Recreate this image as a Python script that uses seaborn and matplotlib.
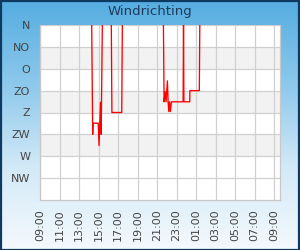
import numpy as np
import pandas as pd
import matplotlib
matplotlib.use("Agg")
import matplotlib.pyplot as plt
from matplotlib.colors import LinearSegmentedColormap
from matplotlib.patches import Rectangle
import seaborn as sns

# ---- data (hours after 09:00, wind direction in degrees) ----
seg1_t = [5.30, 5.40, 5.44, 5.97, 6.05, 6.20, 6.27, 6.39]
seg1_v = [0, 225, 202, 202, 248, 159, 225, 0]
seg2_t = [7.31, 7.37, 8.38, 8.44]
seg2_v = [0, 180, 180, 0]
seg3_t = [12.65, 12.72, 12.82, 12.92, 13.06, 13.13, 13.20, 13.28, 13.36, 13.47,
          14.67, 14.71, 14.75, 15.35, 15.36, 16.33, 16.38]
seg3_v = [0, 158, 137, 158, 115, 158, 178, 158, 178, 158,
          158, 0, 158, 158, 135, 135, 0]

dir_labels = ["N", "NO", "O", "ZO", "Z", "ZW", "W", "NW"]
dir_values = [0, 45, 90, 135, 180, 225, 270, 315]
tick_hours = list(range(0, 25, 2))
tick_labels = ["%02d:00" % ((9 + h) % 24) for h in tick_hours]

df = pd.concat([
    pd.DataFrame({"t": seg1_t, "v": seg1_v, "seg": 1}),
    pd.DataFrame({"t": seg2_t, "v": seg2_v, "seg": 2}),
    pd.DataFrame({"t": seg3_t, "v": seg3_v, "seg": 3}),
], ignore_index=True)

sns.set_style("white")
plt.rcParams["font.family"] = ["DejaVu Sans"]

fig = plt.figure(figsize=(3.0, 2.5), dpi=100)

# gradient background
bg = fig.add_axes([0, 0, 1, 1], zorder=-10)
cmap = LinearSegmentedColormap.from_list("bg", ["#55ade0", "#8cc8ec", "#d2e9f7", "#f4f9fd"])
grad = np.linspace(0, 1, 256).reshape(-1, 1)
bg.imshow(grad, aspect="auto", cmap=cmap, extent=[0, 1, 0, 1], origin="upper")
bg.set_xlim(0, 1); bg.set_ylim(0, 1)
bg.axis("off")
fig.patches.append(Rectangle((0.002, 0.002), 0.996, 0.996, transform=fig.transFigure,
                             fill=False, edgecolor="#0e3a62", linewidth=1.6, zorder=10))

ax = fig.add_axes([40/300, 50/250, 240/300, 175/250])
ax.set_facecolor("white")

# alternating bands
for lo in [45, 135, 225]:
    ax.axhspan(lo, lo + 45, color="#f2f2f2", zorder=0, lw=0)

sns.lineplot(data=df, x="t", y="v", units="seg", estimator=None, color="#ff0000",
             linewidth=0.95, ax=ax, legend=False, zorder=3)

ax.set_xlim(0, 24.6)
ax.set_ylim(360, 0)
ax.set_xticks(tick_hours)
ax.set_xticklabels(tick_labels, rotation=90, fontsize=8, color="#444444")
ax.set_yticks(dir_values)
ax.set_yticklabels(dir_labels, fontsize=8, color="#444444")
ax.tick_params(axis="both", length=0)
ax.tick_params(axis="x", pad=7)
ax.tick_params(axis="y", pad=7)
ax.grid(True, color="#d0d0d0", linewidth=0.9, zorder=1)
ax.set_axisbelow(True)
ax.set_xlabel("")
ax.set_ylabel("")
for s in ax.spines.values():
    s.set_color("#c8c8c8")
    s.set_linewidth(0.9)
ax.spines["top"].set_visible(False)

fig.text(0.5, 1 - 12/250, "Windrichting", ha="center", va="center",
         fontsize=9.5, color="#1e3b5a")

fig.savefig("out.png", dpi=100)
